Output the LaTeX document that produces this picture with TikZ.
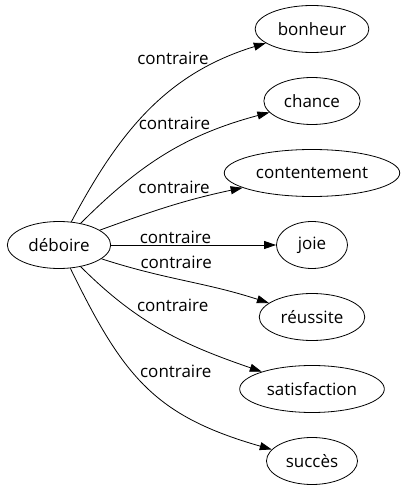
\documentclass[tikz,border=0pt]{standalone}
\usepackage{fontspec}
\setmainfont{Open Sans}
\usetikzlibrary{arrows.meta,shapes.geometric}

\begin{document}
\begin{tikzpicture}[x=1pt,y=1pt,line width=0.8pt,
    >={Triangle[length=12pt,width=8pt]},
    word/.style={draw,ellipse,inner xsep=6pt,minimum height=47pt,
        minimum width=71pt,font=\fontsize{17}{20}\selectfont},
    rel/.style={font=\fontsize{17}{20}\selectfont,inner sep=1pt}]
    \useasboundingbox (0,0) rectangle (402,491);
    \node[word] (deboire) at (59,246) {déboire};
    \node[word] (bonheur) at (312,462) {bonheur};
    \node[word] (chance) at (312,390) {chance};
    \node[word] (contentement) at (312,318) {contentement};
    \node[word] (joie) at (312,246) {joie};
    \node[word] (reussite) at (312,174) {réussite};
    \node[word] (satisfaction) at (312,102) {satisfaction};
    \node[word] (succes) at (312,30) {succès};
    \draw[->] (deboire) edge[out=62,in=197] node[rel,pos=0.79,anchor=south east] {contraire} (bonheur);
    \draw[->] (deboire) edge[out=45,in=195] node[rel,pos=0.74,anchor=south east] {contraire} (chance);
    \draw[->] (deboire) edge[out=20,in=192] node[rel,pos=0.8,anchor=south east] {contraire} (contentement);
    \draw[->] (deboire) edge node[rel,pos=0.39,anchor=south] {contraire} (joie);
    \draw[->] (deboire) edge[out=-18,in=162] node[rel,pos=0.21,anchor=south west] {contraire} (reussite);
    \draw[->] (deboire) edge[out=-45,in=161] node[rel,pos=0.33,anchor=south west] {contraire} (satisfaction);
    \draw[->] (deboire) edge[out=-64,in=164,looseness=1.15] node[rel,pos=0.45,anchor=south west] {contraire} (succes);
\end{tikzpicture}
\end{document}
